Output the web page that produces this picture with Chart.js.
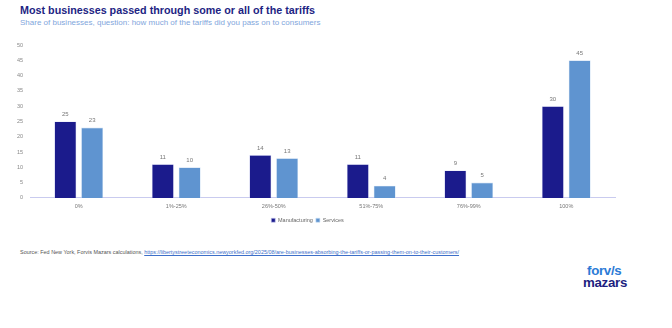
<!DOCTYPE html>
<html>
<head>
<meta charset="utf-8">
<script src="https://cdn.jsdelivr.net/npm/chart.js@4/dist/chart.umd.min.js"></script>
<style>
  html, body { margin: 0; padding: 0; background: #fff; }
  #page { position: relative; width: 672px; height: 328px; overflow: hidden; font-family: "Liberation Sans", Arial, sans-serif; }
  #title { position: absolute; left: 20px; top: 4px; font-size: 10.75px; font-weight: bold; color: #1d2483; white-space: nowrap; }
  #subtitle { position: absolute; left: 20px; top: 18px; font-size: 8px; color: #7fa6dc; white-space: nowrap; }
  #chartBox { position: absolute; left: 0; top: 34px; width: 630px; height: 207px; }
  #source { position: absolute; left: 20px; top: 249px; font-size: 5.45px; color: #555; white-space: nowrap; }
  #source a { color: #3d6fc9; text-decoration: underline; }
  #logo { position: absolute; left: 583px; top: 265px; font-family: "Liberation Sans", Arial, sans-serif; font-weight: bold; line-height: 12px; }
  #logo .l1 { color: #2b7bd6; font-size: 13.3px; padding-left: 4px; letter-spacing: -0.3px; }
  #logo .l2 { color: #1d1f80; font-size: 13.3px; letter-spacing: -0.3px; }
</style>
</head>
<body>
<div id="page">
  <div id="title">Most businesses passed through some or all of the tariffs</div>
  <div id="subtitle">Share of businesses, question: how much of the tariffs did you pass on to consumers</div>
  <div id="chartBox"><canvas id="chart"></canvas></div>
  <div id="source">Source: Fed New York, Forvis Mazars calculations, <a>https://libertystreeteconomics.newyorkfed.org/2025/08/are-businesses-absorbing-the-tariffs-or-passing-them-on-to-their-customers/</a></div>
  <div id="logo"><div class="l1">forv/s</div><div class="l2">mazars</div></div>
</div>
<script>
// Share of businesses passing on tariff costs, by share passed on
const categories = ["0%", "1%-25%", "26%-50%", "51%-75%", "76%-99%", "100%"];
const manufacturing = [25, 11, 14, 11, 9, 30];
const services = [23, 10, 13, 4, 5, 45];
const yTicks = [0, 5, 10, 15, 20, 25, 30, 35, 40, 45, 50];

// Writes each bar's value just above it
const valueLabels = {
  id: "valueLabels",
  afterDatasetsDraw(chart) {
    const ctx = chart.ctx;
    ctx.save();
    ctx.font = "6px 'Liberation Sans', Arial, sans-serif";
    ctx.fillStyle = "#777";
    ctx.textAlign = "center";
    ctx.textBaseline = "bottom";
    chart.data.datasets.forEach((ds, i) => {
      chart.getDatasetMeta(i).data.forEach((bar, j) => {
        ctx.fillText(String(ds.data[j]), bar.x, bar.y - 4);
      });
    });
    ctx.restore();
  }
};

new Chart(document.getElementById("chart"), {
  type: "bar",
  data: {
    labels: categories,
    datasets: [
      { label: "Manufacturing", data: manufacturing, backgroundColor: "#1b1b8c", borderColor: "#c9cdf0", borderWidth: 0.6 },
      { label: "Services", data: services, backgroundColor: "#5f94d0", borderColor: "#cfe0f3", borderWidth: 0.6 }
    ]
  },
  options: {
    responsive: true,
    maintainAspectRatio: false,
    animation: false,
    datasets: { bar: { categoryPercentage: 0.55, barPercentage: 0.82 } },
    layout: { padding: { top: 11, right: 15, left: 0, bottom: 8 } },
    plugins: {
      legend: {
        position: "bottom",
        labels: {
          font: { size: 5.5, family: "'Liberation Sans', Arial, sans-serif" },
          color: "#666",
          boxWidth: 4,
          boxHeight: 4,
          padding: 3
        }
      },
      tooltip: { enabled: false }
    },
    scales: {
      x: {
        grid: { display: false, drawTicks: false },
        border: { color: "#c9cbef", width: 1 },
        ticks: { font: { size: 5.5, family: "'Liberation Sans', Arial, sans-serif" }, color: "#777", padding: 5 }
      },
      y: {
        min: 0,
        max: 50,
        afterBuildTicks(scale) { scale.ticks = yTicks.map(v => ({ value: v })); },
        afterFit(scale) { scale.width = 30; },
        grid: { display: false, drawTicks: false },
        border: { display: false },
        ticks: { font: { size: 5.5, family: "'Liberation Sans', Arial, sans-serif" }, color: "#888", padding: 7 }
      }
    }
  },
  plugins: [valueLabels]
});
</script>
</body>
</html>
